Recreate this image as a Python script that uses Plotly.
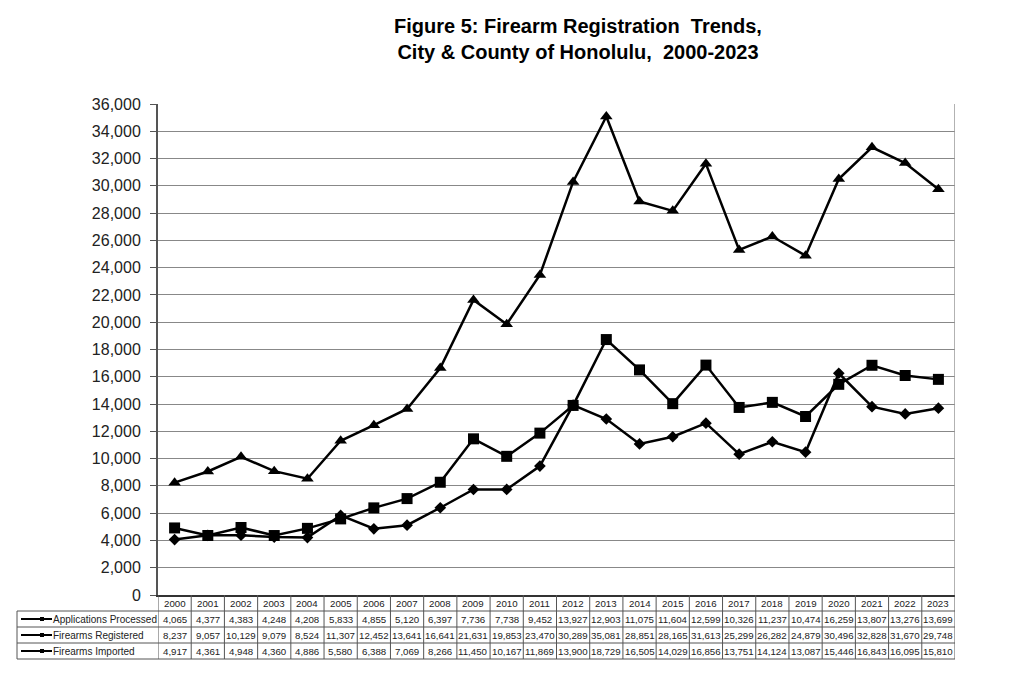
import plotly.graph_objects as go

years = list(range(2000, 2024))
applications = [4065, 4377, 4383, 4248, 4208, 5833, 4855, 5120, 6397, 7736, 7738, 9452,
                13927, 12903, 11075, 11604, 12599, 10326, 11237, 10474, 16259, 13807, 13276, 13699]
registered = [8237, 9057, 10129, 9079, 8524, 11307, 12452, 13641, 16641, 21631, 19853, 23470,
              30289, 35081, 28851, 28165, 31613, 25299, 26282, 24879, 30496, 32828, 31670, 29748]
imported = [4917, 4361, 4948, 4360, 4886, 5580, 6388, 7069, 8266, 11450, 10167, 11869,
            13900, 18729, 16505, 14029, 16856, 13751, 14124, 13087, 15446, 16843, 16095, 15810]

series = [
    ("Applications Processed", applications, "diamond", 9),
    ("Firearms Registered", registered, "triangle-up", 11),
    ("Firearms Imported", imported, "square", 11),
]

# page body has an 8px margin, so work in figure pixels = screen pixels - 8
OFF = 8
W, H = 1007, 663
L, R, T, B = 158 - OFF, 955 - OFF, 104 - OFF, 595 - OFF


def px(x):
    return (x - OFF - L) / (R - L)


def py(y):
    return (B - (y - OFF)) / (B - T)


fig = go.Figure()
for name, vals, sym, sz in series:
    fig.add_trace(go.Scatter(
        x=years, y=vals, name=name, mode="lines+markers",
        line=dict(color="black", width=2.5),
        marker=dict(symbol=sym, size=sz, color="black"),
        showlegend=False,
    ))

shapes = []
annotations = []
font = dict(family="Liberation Sans, Arial", size=9.7, color="#222")
grid = "#555"

# data table below the plot (screen pixel positions)
row_top = [595, 611, 627, 643]
row_bot = 659
for y in row_top[1:] + [row_bot]:
    shapes.append(dict(type="line", xref="paper", yref="paper",
                       x0=px(17), x1=px(955), y0=py(y), y1=py(y),
                       line=dict(color=grid, width=1)))
shapes.append(dict(type="line", xref="paper", yref="paper",
                   x0=px(17), x1=px(17), y0=py(611), y1=py(row_bot),
                   line=dict(color=grid, width=1)))
for i in range(len(years) + 1):
    xb = years[0] - 0.5 + i
    shapes.append(dict(type="line", xref="x", yref="paper",
                       x0=xb, x1=xb, y0=py(595), y1=py(row_bot),
                       line=dict(color=grid, width=1)))
# right border of plot area
shapes.append(dict(type="line", xref="x", yref="paper",
                   x0=years[-1] + 0.5, x1=years[-1] + 0.5, y0=0, y1=1,
                   line=dict(color="#999", width=1.5)))

for yr in years:
    annotations.append(dict(x=yr, y=py(603), xref="x", yref="paper", text=str(yr),
                            showarrow=False, font=font, xanchor="center", yanchor="middle"))

for r, (name, vals, sym, sz) in enumerate(series):
    yc = row_top[r + 1] + 8
    for yr, v in zip(years, vals):
        annotations.append(dict(x=yr, y=py(yc), xref="x", yref="paper",
                                text=f"{v:,}", showarrow=False, font=font,
                                xanchor="center", yanchor="middle"))
    annotations.append(dict(x=px(51), y=py(yc), xref="paper", yref="paper",
                            text=name, showarrow=False, xanchor="left", yanchor="middle",
                            font=dict(family="Liberation Sans, Arial", size=10, color="#222")))
    shapes.append(dict(type="line", xref="paper", yref="paper",
                       x0=px(21), x1=px(52), y0=py(yc), y1=py(yc),
                       line=dict(color="black", width=2)))
    shapes.append(dict(type="rect", xref="paper", yref="paper",
                       x0=px(40), x1=px(44), y0=py(yc + 2), y1=py(yc - 2),
                       fillcolor="black", line=dict(width=0)))

fig.update_layout(
    width=W, height=H,
    margin=dict(l=L, r=W - R, t=T, b=H - B),
    paper_bgcolor="white", plot_bgcolor="white",
    title=dict(
        text="Figure 5: Firearm Registration  Trends,<br>City & County of Honolulu,  2000-2023",
        x=(578 - OFF) / W, xanchor="center", y=1 - (33 - OFF) / H, yanchor="middle",
        font=dict(family="Liberation Sans, Arial", size=20, color="black", weight="bold"),
    ),
    xaxis=dict(range=[years[0] - 0.5, years[-1] + 0.5], showticklabels=False,
               showgrid=False, zeroline=False, showline=True, linecolor="#333",
               linewidth=1.5, fixedrange=True),
    yaxis=dict(range=[0, 36000], dtick=2000, tickformat=",", showgrid=True,
               gridcolor="#888", gridwidth=1.2, zeroline=False, showline=True,
               linecolor="#555", linewidth=2, ticks="outside", ticklen=6,
               tickcolor="#555", ticklabelstandoff=6,
               tickfont=dict(family="Liberation Sans, Arial", size=16, color="#222")),
    shapes=shapes,
    annotations=annotations,
)

fig.write_html("out.html")
